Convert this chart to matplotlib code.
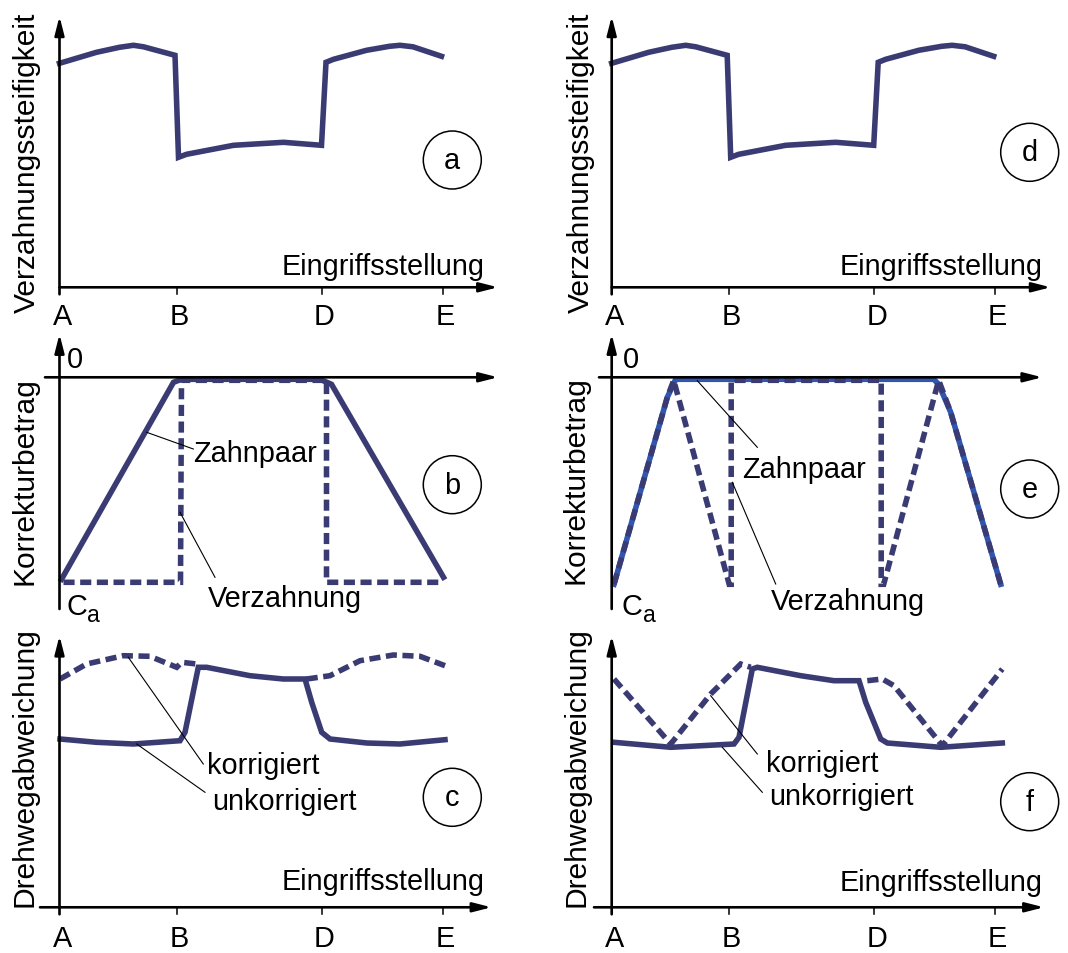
import numpy as np
import matplotlib.pyplot as plt
from matplotlib.patches import Circle

plt.rcParams['font.family'] = ['Liberation Sans', 'DejaVu Sans']

# meshing positions on the x axis
stations = [0, 117, 262, 383]
station_names = ['A', 'B', 'D', 'E']

# a / d: mesh stiffness
stiff_x = [0, 37, 60, 74, 84, 115.5, 119, 127, 174, 224, 262, 266.5, 274, 307, 330, 340.5, 353.5, 382]
stiff_y = [224, 235, 240, 242, 240.5, 232, 130, 133, 142, 145, 142, 225, 228, 237, 241, 242, 240.5, 231]

# b: correction amount (tooth pair solid, gearing dashed)
pair_b_x = [2, 114, 122, 260.5, 272, 384]
pair_b_y = [-202, -5, -2, -2, -7, -200]
gear_b_x = [4, 121, 122, 122, 267, 267, 384]
gear_b_y = [-205, -205, -3, -3, -3, -205, -205]

# e: correction amount
pair_e_x = [2.3, 55.6, 64, 322, 327, 339, 389]
pair_e_y = [-207, -20, -2, -2, -7, -35, -207]
gear_e_x = [2.3, 55.6, 62, 117.5, 119.5, 119.5, 269.5, 269.5, 272, 327, 339, 389]
gear_e_y = [-207, -20, -3, -207, -207, -3, -3, -207, -207, -3, -35, -207]

# c: transmission error
unkorr_c_x = [0.5, 37, 73.8, 120.5, 125.5, 138.8, 147.2, 190.5, 223.8, 245.5, 252.2, 262.2, 270.5, 307.2, 340.5, 385.5]
unkorr_c_y = [168.3, 165, 163.3, 166.6, 175, 240, 240, 231.6, 228.3, 228.3, 205, 175, 168.3, 164.3, 163.3, 167.6]
korr_c_x = [0.5, 27.2, 63.8, 90.5, 117.2, 122.2, 137.2, np.nan,
            247.2, 270.5, 300.5, 333.8, 360.5, 385.5]
korr_c_y = [228.3, 243.3, 251.6, 251, 240, 245, 243.3, np.nan,
            228.3, 231.6, 246.6, 252.3, 251, 241.6]

# f: transmission error
unkorr_f_x = [2.3, 59, 122.3, 127.3, 140.6, 145.6, 189, 222.3, 247.3, 254, 269, 275.6, 329, 390.6]
unkorr_f_y = [165, 160, 163.3, 170, 238.3, 240, 231.6, 226.6, 226.6, 205, 168.3, 164.3, 160, 164.3]
korr_f_x = [2.3, 59, 99, 129, 139, np.nan, 255.6, 270.6, 282.3, 330.6, 390.6]
korr_f_y = [228.3, 163.3, 213.3, 243.3, 240, np.nan, 226.6, 228.3, 221.6, 161.6, 238.3]

W, H = 1068, 954
DARK = '#3b3b74'
BLUE = '#2f56b0'
FS = 20.8
FS_Y = 21.6

col_px = [(0, 534), (534, 1068)]
row_px = [(0, 320), (320, 620), (620, 954)]
origin_x = [59.5, 611.7]
origin_y = [288.3, 378.3, 908.3]

fig = plt.figure(figsize=(W / 100, H / 100), dpi=100)


def make_panel(col, row):
    x0, x1 = col_px[col]
    y0, y1 = row_px[row]
    ax = fig.add_axes([x0 / W, 1 - y1 / H, (x1 - x0) / W, (y1 - y0) / H])
    ax.set_xlim(x0 - origin_x[col], x1 - origin_x[col])
    ax.set_ylim(origin_y[row] - y1, origin_y[row] - y0)
    ax.axis('off')
    return ax


def arrow(ax, start, tip):
    ax.annotate('', xy=tip, xytext=start, annotation_clip=False,
                arrowprops=dict(arrowstyle='-|>,head_length=1.1,head_width=0.28',
                                lw=1.9, color='k', shrinkA=0, shrinkB=0,
                                mutation_scale=10))


def axes_frame(ax, x_start, x_tip, y_bottom, y_tip, ticks=True):
    arrow(ax, (x_start, 0), (x_tip, 0))
    arrow(ax, (0, y_bottom), (0, y_tip))
    if ticks:
        for s in stations[1:]:
            ax.plot([s, s], [0, -7], color='k', lw=1.1, clip_on=False)


def tick_labels(ax, dy=-31):
    for s, n in zip(stations, station_names):
        ax.text(s + 3, dy, n, fontsize=FS, ha='center', va='center')


def tag(ax, x, y, letter):
    ax.add_patch(Circle((x, y), 29, fill=False, lw=1.1, ec='k', clip_on=False))
    ax.text(x, y, letter, fontsize=FS, ha='center', va='center')


def leader(ax, p0, p1):
    ax.plot([p0[0], p1[0]], [p0[1], p1[1]], color='k', lw=0.8, clip_on=False)


def ca_label(ax, x, y):
    ax.text(x, y, 'C', fontsize=FS, ha='left', va='baseline')
    ax.text(x + 21, y - 7, 'a', fontsize=FS * 0.8, ha='left', va='baseline')


def curve(ax, x, y, color=DARK, dashed=False):
    kw = dict(color=color, lw=4, solid_joinstyle='miter', clip_on=False)
    if dashed:
        kw.update(ls=(0, (2.0, 1.0)), dash_joinstyle='miter')
    ax.plot(x, y, **kw)


# ---------- row 1: stiffness ----------
for col, (tip_x, circ_x, circ_y, letter, ylab_x, eing_x) in enumerate(
        [(438.5, 392.8, 127.3, 'a', -32.8, 425.5), (439, 418, 135, 'd', -31.2, 430.6)]):
    ax = make_panel(col, 0)
    axes_frame(ax, 0, tip_x, -7, 271)
    tick_labels(ax, -29)
    curve(ax, stiff_x, stiff_y)
    tag(ax, circ_x, circ_y, letter)
    ax.text(ylab_x, 125.3, 'Verzahnungssteifigkeit', fontsize=FS_Y, rotation=90,
            ha='center', va='center')
    ax.text(eing_x, 13.3, 'Eingriffsstellung', fontsize=FS, ha='right', va='baseline')

# ---------- row 2: correction ----------
ax = make_panel(0, 1)
axes_frame(ax, -14.5, 438.5, -231.7, 43.3, ticks=False)
curve(ax, gear_b_x, gear_b_y, dashed=True)
curve(ax, pair_b_x, pair_b_y)
tag(ax, 392.8, -107.4, 'b')
ax.text(-34.5, -102.5, 'Korrekturbetrag', fontsize=FS_Y, rotation=90, ha='center', va='center')
ax.text(15, 18.3, '0', fontsize=FS, ha='center', va='center')
ca_label(ax, 6.5, -236.7)
ax.text(133.5, -83.4, 'Zahnpaar', fontsize=FS, ha='left', va='baseline')
leader(ax, (87.2, -55), (133.8, -71.7))
ax.text(148.5, -229, 'Verzahnung', fontsize=FS, ha='left', va='baseline')
leader(ax, (120.5, -135), (155.5, -200))

ax = make_panel(1, 1)
axes_frame(ax, -12.7, 430.6, -231.7, 43.3, ticks=False)
curve(ax, pair_e_x, pair_e_y, color=BLUE)
curve(ax, gear_e_x, gear_e_y, dashed=True)
tag(ax, 418, -111.7, 'e')
ax.text(-36.2, -102, 'Korrekturbetrag', fontsize=FS_Y, rotation=90, ha='center', va='center')
ax.text(18.8, 18.3, '0', fontsize=FS, ha='center', va='center')
ca_label(ax, 10, -236.7)
ax.text(130.6, -100, 'Zahnpaar', fontsize=FS, ha='left', va='baseline')
leader(ax, (85.6, -3.4), (145.6, -70))
ax.text(159, -231.7, 'Verzahnung', fontsize=FS, ha='left', va='baseline')
leader(ax, (120.6, -105), (164, -206.7))

# ---------- row 3: transmission error ----------
ax = make_panel(0, 2)
axes_frame(ax, -19.5, 432, -7, 271.6)
tick_labels(ax)
curve(ax, korr_c_x, korr_c_y, dashed=True)
curve(ax, unkorr_c_x, unkorr_c_y)
tag(ax, 392.8, 110, 'c')
ax.text(-35.3, 141.3, 'Drehwegabweichung', fontsize=FS_Y, rotation=90, ha='center', va='center')
ax.text(425.5, 18.3, 'Eingriffsstellung', fontsize=FS, ha='right', va='baseline')
ax.text(147.2, 134.3, 'korrigiert', fontsize=FS, ha='left', va='baseline')
leader(ax, (68.8, 250), (143.8, 143.3))
ax.text(152.2, 98.3, 'unkorrigiert', fontsize=FS, ha='left', va='baseline')
leader(ax, (77.2, 163.3), (145.5, 115))

ax = make_panel(1, 2)
axes_frame(ax, -17.7, 432.3, -7, 271.6)
tick_labels(ax)
curve(ax, korr_f_x, korr_f_y, dashed=True)
curve(ax, unkorr_f_x, unkorr_f_y)
tag(ax, 418, 105.6, 'f')
ax.text(-35.2, 141.3, 'Drehwegabweichung', fontsize=FS_Y, rotation=90, ha='center', va='center')
ax.text(430.6, 17.6, 'Eingriffsstellung', fontsize=FS, ha='right', va='baseline')
ax.text(154, 136.6, 'korrigiert', fontsize=FS, ha='left', va='baseline')
leader(ax, (99, 211.6), (145.6, 153.3))
ax.text(157.3, 103.3, 'unkorrigiert', fontsize=FS, ha='left', va='baseline')
leader(ax, (110.6, 160), (150.6, 115))

fig.savefig('out.png', dpi=100)
